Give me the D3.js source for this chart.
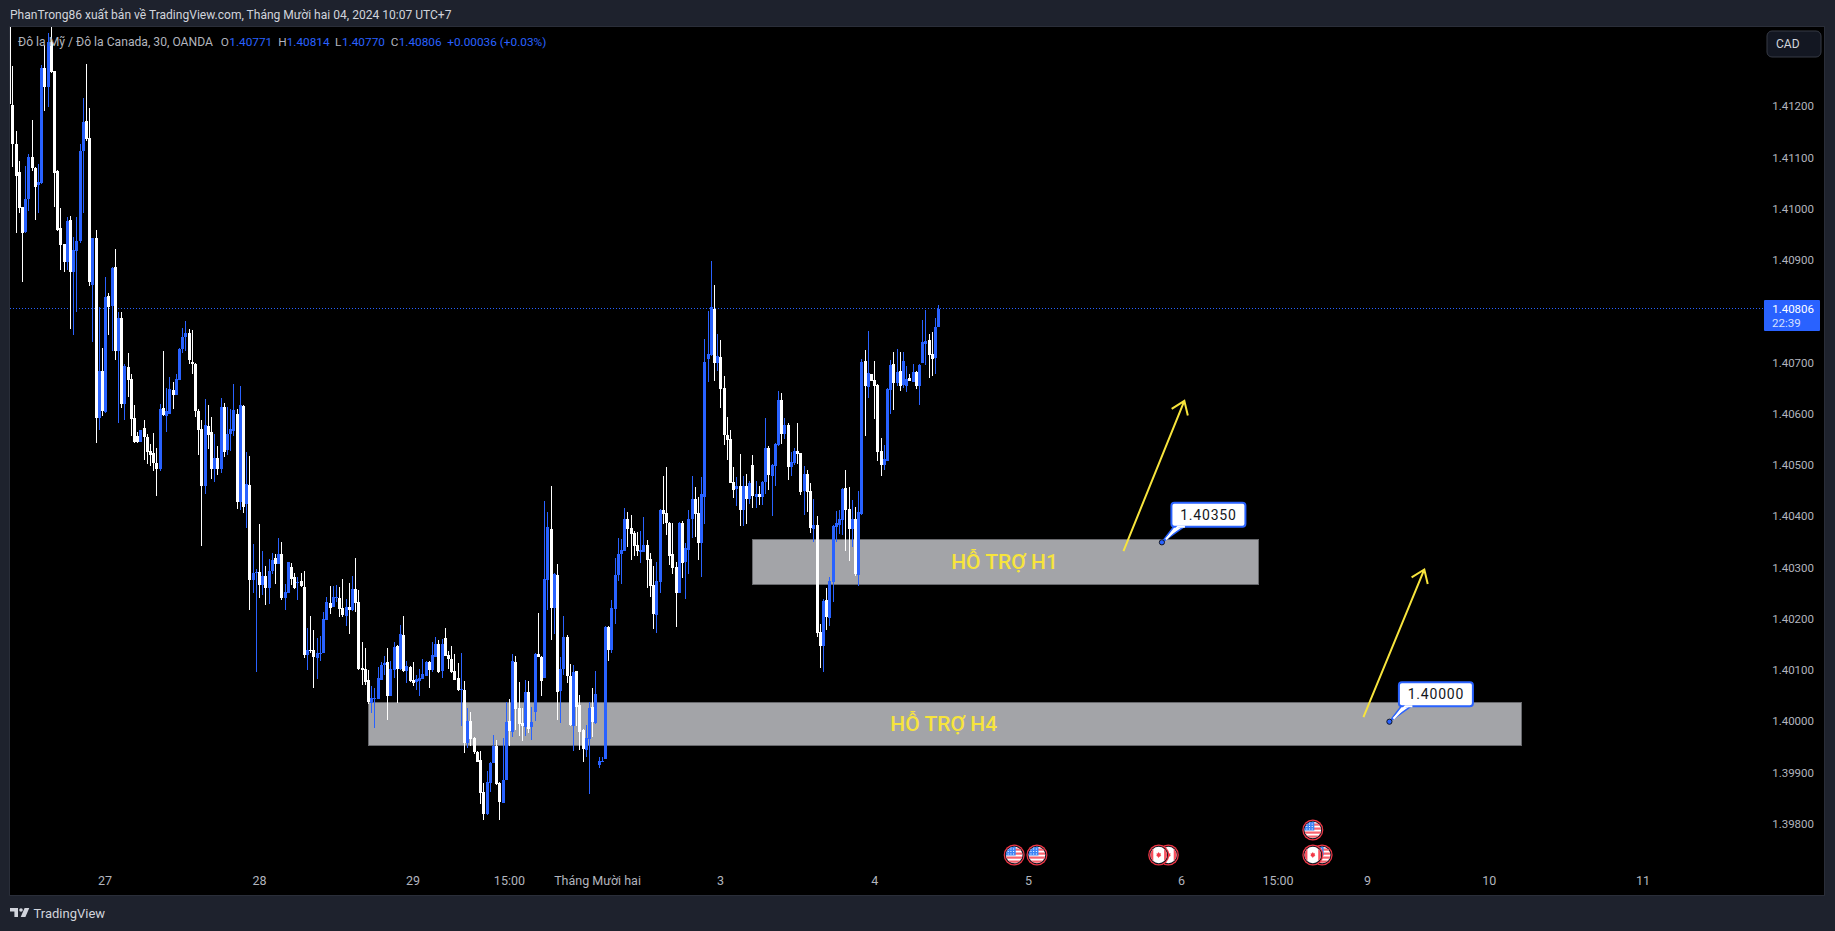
<!DOCTYPE html>
<html>
<head>
<meta charset="utf-8">
<script src="https://cdn.jsdelivr.net/npm/d3@7"></script>
<style>
  html, body { margin: 0; padding: 0; background: #1e222d; overflow: hidden; }
  svg { display: block; font-family: Roboto, sans-serif; }
</style>
</head>
<body>
<svg id="chart" width="1835" height="931"></svg>
<script>
// prices in 1e-5 units, one value per 30 minute bar
const opens = [141370,
  141203,141128,141073,141004,140956,141020,141102,141080,141047,141051,
  141275,141238,141327,141269,141075,140963,140932,140897,140979,140878,
  140919,140937,141114,141172,141139,140852,140944,140593,140685,140605,
  140831,140811,140888,140724,140788,140620,140692,140669,140593,140558,
  140546,140573,140555,140528,140525,140504,140493,140612,140597,140601,
  140647,140638,140667,140727,140750,140759,140702,140698,140607,140571,
  140460,140577,140566,140493,140515,140493,140614,140530,140562,140568,
  140601,140429,140616,140425,140462,140277,140291,140293,140267,140285,
  140261,140295,140320,140308,140328,140242,140252,140302,140282,140270,
  140274,140263,140131,140140,140140,140124,140133,140135,140199,140232,
  140224,140241,140242,140222,140207,140224,140217,140259,140234,140105,
  140102,140082,140037,140045,140045,140082,140111,140117,140051,140100,
  140148,140102,140170,140098,140107,140082,140078,140080,140084,140090,
  140117,140100,140127,140152,140098,140164,140131,140123,140098,140086,
  140061,140062,139959,140002,139969,139940,139926,139862,139819,139881,
  139920,139953,139881,139842,139887,140002,139979,140117,140027,139998,
  139990,140057,139990,140018,140133,140127,140086,140277,140376,140222,
  140287,140059,140103,140166,140090,139992,140098,140033,139983,139945,
  139967,140029,139998,139916,139922,139928,140185,140140,140220,140287,
  140328,140334,140396,140378,140369,140345,140332,140332,140345,140318,
  140267,140209,140273,140413,140408,140388,140328,140302,140252,140388,
  140312,140335,140396,140435,140408,140349,140438,140707,140715,140806,
  140700,140711,140651,140559,140551,140468,140454,140460,140413,140460,
  140434,140501,140438,140444,140438,140468,140534,140479,140499,140540,
  140627,140561,140579,140497,140505,140528,140524,140450,140483,140450,
  140376,140384,140176,140148,140238,140203,140273,140380,140384,140394,
  140456,140415,140376,140396,140287,140405,140704,140653,140678,140666,
  140657,140528,140501,140509,140647,140698,140661,140684,140657,140655,
  140670,140663,140682,140655,140700,140737,140744,140717,140709,140771];
const highs = [141390,
  141279,141153,141094,141005,141084,141108,141174,141082,141088,141281,
  141320,141343,141355,141270,141076,141002,140933,140985,140987,140946,
  140985,141127,141217,141283,141197,140944,140959,140810,140729,140868,
  140837,140888,140922,140800,140800,140698,140719,140679,140618,140565,
  140570,140589,140562,140542,140564,140534,140620,140724,140652,140673,
  140663,140679,140729,140769,140782,140766,140764,140699,140610,140589,
  140630,140618,140595,140562,140538,140632,140622,140614,140610,140659,
  140610,140655,140618,140527,140519,140347,140298,140386,140334,140304,
  140318,140330,140328,140359,140351,140269,140312,140309,140290,140282,
  140290,140295,140183,140207,140179,140164,140168,140215,140244,140265,
  140265,140267,140263,140279,140240,140271,140285,140320,140256,140156,
  140144,140100,140070,140066,140107,140117,140129,140144,140119,140156,
  140150,140189,140207,140119,140108,140117,140092,140103,140123,140118,
  140118,140156,140166,140160,140162,140183,140137,140148,140133,140115,
  140135,140080,140027,140018,139970,139942,139942,139881,139903,139922,
  139975,139965,139882,139969,140039,140045,140133,140129,140078,140027,
  140082,140080,140029,140134,140213,140128,140431,140410,140460,140291,
  140308,140127,140207,140170,140113,140111,140099,140053,139986,139994,
  140039,140066,140098,139932,139932,140187,140187,140238,140320,140359,
  140357,140417,140410,140404,140373,140371,140373,140400,140355,140330,
  140304,140312,140415,140480,140497,140389,140388,140312,140390,140392,
  140349,140413,140480,140458,140439,140478,140746,140801,140899,140852,
  140756,140744,140674,140594,140569,140497,140477,140522,140479,140483,
  140470,140520,140470,140460,140469,140592,140538,140503,140543,140645,
  140641,140592,140583,140526,140534,140583,140525,140499,140491,140466,
  140435,140402,140191,140240,140261,140283,140383,140412,140413,140456,
  140492,140458,140433,140419,140451,140707,140725,140762,140679,140704,
  140659,140553,140540,140651,140705,140721,140727,140721,140721,140694,
  140678,140698,140684,140697,140783,140803,140756,140760,140787,140814];
const lows = [141190,
  141083,140953,140992,140857,140954,140997,141075,140978,140992,141049,
  141192,141200,141266,141005,140957,140881,140878,140881,140766,140755,
  140800,140935,140992,141134,140850,140740,140543,140569,140597,140603,
  140755,140724,140706,140582,140613,140588,140634,140558,140543,140543,
  140545,140511,140503,140499,140490,140441,140489,140597,140566,140600,
  140610,140637,140666,140720,140724,140698,140679,140595,140521,140343,
  140445,140532,140474,140468,140482,140486,140517,140521,140529,140558,
  140415,140413,140408,140378,140218,140252,140096,140242,140248,140228,
  140230,140289,140269,140307,140237,140217,140251,140267,140259,140238,
  140263,140125,140100,140134,140066,140084,140119,140134,140198,140211,
  140223,140234,140205,140205,140187,140172,140216,140215,140100,140072,
  140072,140035,140016,139988,140044,140081,140092,140004,140050,140086,
  140037,140101,140097,140076,140078,140070,140061,140051,140083,140089,
  140066,140096,140126,140095,140086,140128,140102,140095,140081,140060,
  139992,139938,139949,139953,139936,139921,139840,139809,139818,139862,
  139919,139877,139809,139841,139886,139953,139971,139984,139973,139963,
  139973,139977,139965,140002,140126,140051,140085,140218,140160,140172,
  140004,139998,140092,140076,139992,139942,139992,139944,139922,139932,
  139858,139971,139996,139910,139921,139927,140119,140135,140191,140275,
  140269,140333,140341,140316,140324,140324,140310,140331,140261,140244,
  140181,140174,140252,140386,140365,140306,140289,140185,140251,140281,
  140240,140289,140359,140361,140316,140283,140386,140663,140714,140665,
  140684,140612,140540,140510,140465,140436,140421,140382,140382,140386,
  140425,140417,140417,140423,140423,140444,140452,140401,140460,140538,
  140542,140551,140471,140479,140501,140503,140442,140403,140409,140369,
  140351,140166,140105,140096,140178,140187,140234,140351,140367,140365,
  140334,140314,140341,140285,140265,140404,140557,140631,140664,140590,
  140509,140479,140491,140508,140600,140608,140655,140645,140651,140643,
  140664,140662,140649,140618,140699,140696,140670,140674,140678,140770];
const closes = [141205,
  141127,141065,141002,140954,141020,141102,141080,141043,141054,141275,
  141238,141327,141268,141071,140959,140930,140897,140977,140878,140920,
  140938,141114,141171,141137,140857,140943,140593,140685,140607,140829,
  140810,140885,140724,140788,140620,140694,140667,140591,140545,140545,
  140569,140555,140527,140521,140504,140493,140610,140599,140607,140649,
  140638,140669,140727,140751,140759,140706,140698,140607,140569,140460,
  140579,140560,140493,140515,140493,140614,140527,140562,140571,140608,
  140429,140618,140419,140464,140277,140290,140293,140267,140285,140261,
  140295,140316,140308,140328,140241,140253,140311,140278,140260,140272,
  140264,140131,140139,140137,140127,140134,140135,140201,140234,140222,
  140244,140244,140220,140209,140224,140217,140259,140232,140103,140100,
  140078,140039,140047,140047,140086,140111,140115,140051,140102,140146,
  140102,140172,140098,140109,140080,140076,140084,140086,140094,140117,
  140100,140131,140152,140096,140152,140129,140123,140096,140082,140061,
  140063,139959,140002,139967,139940,139922,139860,139819,139883,139920,
  139953,139879,139844,139887,140000,139981,140119,140025,139996,139992,
  140057,139986,140000,140133,140127,140080,140279,140380,140222,140289,
  140057,140103,140166,140090,139994,140096,140029,139979,139947,139969,
  140027,140000,140055,139924,139924,140185,140140,140222,140287,140328,
  140335,140396,140376,140367,140343,140334,140335,140345,140316,140265,
  140211,140275,140413,140406,140388,140324,140300,140252,140388,140310,
  140339,140396,140435,140406,140349,140445,140702,140717,140809,140700,
  140713,140649,140559,140549,140466,140452,140460,140413,140460,140434,
  140466,140440,140444,140438,140468,140534,140481,140501,140542,140627,
  140561,140579,140497,140507,140528,140522,140448,140483,140448,140378,
  140384,140174,140148,140236,140205,140275,140382,140388,140396,140454,
  140413,140376,140396,140289,140410,140702,140655,140680,140665,140655,
  140526,140501,140512,140649,140696,140661,140682,140655,140704,140668,
  140665,140682,140655,140696,140741,140743,140715,140707,140770,140806];

const priceTicks = [1.412,1.411,1.41,1.409,1.408,1.407,1.406,1.405,1.404,1.403,1.402,1.401,1.4,1.399,1.398];
const timeTickBars = [29.8,78,125.9,156,183.5,221.9,270,318,365.8,395.9,423.8,461.8,509.8];
const timeTickLabels = ['27','28','29','15:00','Tháng Mười hai','3','4','5','6','15:00','9','10','11'];

const zoneLabels = ['HỖ TRỢ H1','HỖ TRỢ H4'];
const zoneStartBars = [232,112.1];
const zoneEndBars = [390,471.9];
const zoneTops = [1.40356,1.40038];
const zoneBottoms = [1.40269,1.39955];

const arrowStartBars = [347.8,422.7];
const arrowStartPrices = [1.40333,1.40009];
const arrowEndBars = [366.8,441.7];
const arrowEndPrices = [1.40626,1.40297];

const noteBars = [359.8,430.8];
const notePrices = [1.4035,1.4];

const eventBars = [313.7,320.8,361.8,358.8,409.8,406.9,406.9];
const eventKinds = ['us','us','ca','ca','us','ca','us'];
const eventRows = [0,0,0,0,0,0,1];

const lastPrice = 1.40806;
const countdown = '22:39';

const BLUE = '#2962ff';
const PANEL = '#1e222d';
const LINE = '#2a2e39';
const YELLOW = '#f7e43c';
const PLOT = {left: 10, top: 27, right: 1824, bottom: 895};

const svg = d3.select('#chart');
const x = d3.scaleLinear().domain([0, 570]).range([9.1, 1835.4]);
const y = d3.scaleLinear().domain([1.398, 1.412]).range([824.2, 106.7]);

svg.append('rect').attr('width', 1835).attr('height', 931).attr('fill', PANEL);
svg.append('rect').attr('x', PLOT.left).attr('y', PLOT.top)
  .attr('width', PLOT.right - PLOT.left).attr('height', PLOT.bottom - PLOT.top).attr('fill', '#000');
svg.append('path').attr('fill', 'none').attr('stroke', LINE).attr('stroke-width', 1)
  .attr('d', `M9.5 26.5H1824.5V895.5H9.5Z`);

svg.append('clipPath').attr('id', 'plot-clip').append('rect')
  .attr('x', PLOT.left).attr('y', PLOT.top)
  .attr('width', PLOT.right - PLOT.left).attr('height', PLOT.bottom - PLOT.top);
const plot = svg.append('g').attr('clip-path', 'url(#plot-clip)');

// support zones sit behind the candles
zoneLabels.forEach((label, i) => {
  plot.append('rect')
    .attr('x', Math.round(x(zoneStartBars[i])) + 0.5).attr('y', Math.round(y(zoneTops[i])) + 0.5)
    .attr('width', Math.round(x(zoneEndBars[i]) - x(zoneStartBars[i])))
    .attr('height', Math.round(y(zoneBottoms[i]) - y(zoneTops[i])))
    .attr('fill', '#a3a4a8').attr('stroke', '#68696d').attr('stroke-width', 1);
});

plot.append('line').attr('x1', PLOT.left).attr('x2', 1764)
  .attr('y1', Math.floor(y(lastPrice)) + 0.5).attr('y2', Math.floor(y(lastPrice)) + 0.5)
  .attr('stroke', BLUE).attr('stroke-width', 1).attr('stroke-dasharray', '1 2')
  .attr('shape-rendering', 'crispEdges');

const candles = plot.append('g').attr('shape-rendering', 'crispEdges');
opens.forEach((open, i) => {
  const color = closes[i] >= open ? BLUE : '#ffffff';
  const cx = Math.round(x(i));
  const wickTop = Math.round(y(highs[i] / 1e5));
  const wickBottom = Math.round(y(lows[i] / 1e5));
  const bodyTop = Math.round(y(Math.max(open, closes[i]) / 1e5));
  const bodyBottom = Math.round(y(Math.min(open, closes[i]) / 1e5));
  candles.append('rect').attr('x', cx).attr('y', wickTop)
    .attr('width', 1).attr('height', Math.max(1, wickBottom - wickTop)).attr('fill', color);
  candles.append('rect').attr('x', cx - 1).attr('y', bodyTop)
    .attr('width', 3).attr('height', Math.max(1, bodyBottom - bodyTop)).attr('fill', color);
});

zoneLabels.forEach((label, i) => {
  plot.append('text')
    .attr('x', (x(zoneStartBars[i]) + x(zoneEndBars[i])) / 2 - 1)
    .attr('y', (y(zoneTops[i]) + y(zoneBottoms[i])) / 2 + 7.5)
    .attr('text-anchor', 'middle').attr('font-size', 21).attr('font-weight', 500)
    .attr('fill', YELLOW).text(label);
});

arrowStartBars.forEach((bar, i) => {
  const x1 = x(bar), y1 = y(arrowStartPrices[i]);
  const x2 = x(arrowEndBars[i]), y2 = y(arrowEndPrices[i]);
  const a = Math.atan2(y2 - y1, x2 - x1);
  const head = 15, spread = 0.62;
  const p = d3.path();
  p.moveTo(x1, y1);
  p.lineTo(x2, y2);
  p.moveTo(x2 - head * Math.cos(a - spread), y2 - head * Math.sin(a - spread));
  p.lineTo(x2, y2);
  p.lineTo(x2 - head * Math.cos(a + spread), y2 - head * Math.sin(a + spread));
  plot.append('path').attr('d', p.toString()).attr('fill', 'none')
    .attr('stroke', YELLOW).attr('stroke-width', 2);
});

// price notes: the box hangs off the anchor dot
noteBars.forEach((bar, i) => {
  const cx = x(bar), cy = y(notePrices[i]);
  const g = plot.append('g').attr('transform', `translate(${cx},${cy})`);
  g.append('path').attr('d', 'M0 0L13 -17H24L0 0Z').attr('fill', '#fff')
    .attr('stroke', BLUE).attr('stroke-width', 1.5).attr('stroke-linejoin', 'round');
  g.append('rect').attr('x', 9.5).attr('y', -39.5).attr('width', 74).attr('height', 24).attr('rx', 3)
    .attr('fill', '#fff').attr('stroke', BLUE).attr('stroke-width', 2);
  g.append('path').attr('d', 'M4 -3L16 -15.5H23').attr('fill', 'none')
    .attr('stroke', '#fff').attr('stroke-width', 2);
  g.append('circle').attr('r', 2.6).attr('fill', BLUE).attr('stroke', '#131722').attr('stroke-width', 1);
  g.append('text').attr('x', 46.5).attr('y', -22.5).attr('text-anchor', 'middle')
    .attr('font-size', 14).attr('letter-spacing', 0.8).attr('fill', '#131722')
    .text(d3.format('.5f')(notePrices[i]));
});

// economic calendar markers
const defs = svg.append('defs');
eventBars.forEach((bar, i) => {
  const cx = x(bar), cy = eventRows[i] === 1 ? 830 : 855;
  const id = `flag-${i}`;
  defs.append('clipPath').attr('id', id).append('circle').attr('r', 8.3);
  const g = plot.append('g').attr('transform', `translate(${cx},${cy})`);
  g.append('circle').attr('r', 10.5).attr('fill', '#f23645');
  g.append('circle').attr('r', 9.3).attr('fill', '#131722');
  const flag = g.append('g').attr('clip-path', `url(#${id})`);
  flag.append('rect').attr('x', -9).attr('y', -9).attr('width', 18).attr('height', 18).attr('fill', '#fff');
  if (eventKinds[i] === 'us') {
    [-6.5, -2.5, 1.5, 5.5].forEach(sy => {
      flag.append('rect').attr('x', -9).attr('y', sy).attr('width', 18).attr('height', 2.2).attr('fill', '#f7626d');
    });
    flag.append('rect').attr('x', -9).attr('y', -9).attr('width', 10.5).attr('height', 9.5).attr('fill', '#3d84f5');
    d3.range(3).forEach(r => d3.range(3).forEach(c => {
      flag.append('rect').attr('x', -6.5 + c * 2.7).attr('y', -6.5 + r * 2.5)
        .attr('width', 1).attr('height', 1).attr('fill', '#fff');
    }));
  } else {
    flag.append('rect').attr('x', -9).attr('y', -9).attr('width', 3.6).attr('height', 18).attr('fill', '#f7525f');
    flag.append('rect').attr('x', 5.4).attr('y', -9).attr('width', 3.6).attr('height', 18).attr('fill', '#f7525f');
    flag.append('path').attr('d', 'M0 -3L0.9 -1.4L2.2 -1.8L1.8 0.3L2.6 0.7L0.3 2V3H-0.3V2L-2.6 0.7L-1.8 0.3L-2.2 -1.8L-0.9 -1.4Z').attr('fill', '#f23645');
  }
});

// axes
const yAxis = svg.append('g').attr('transform', 'translate(1814,-0.5)')
  .call(d3.axisRight(y).tickValues(priceTicks).tickFormat(d3.format('.5f')).tickSize(0));
yAxis.select('.domain').remove();
yAxis.selectAll('text').attr('x', 0).attr('text-anchor', 'end')
  .attr('font-family', 'Roboto, sans-serif').attr('font-size', 11.5).attr('fill', '#b2b5be');

const labelByBar = new Map(timeTickBars.map((b, i) => [b, timeTickLabels[i]]));
const xAxis = svg.append('g').attr('transform', 'translate(0,873.5)')
  .call(d3.axisBottom(x).tickValues(timeTickBars).tickFormat(b => labelByBar.get(b)).tickSize(0));
xAxis.select('.domain').remove();
xAxis.selectAll('text').attr('font-family', 'Roboto, sans-serif').attr('font-size', 12.5).attr('fill', '#b2b5be');

// last price tag
svg.append('rect').attr('x', 1764).attr('y', 300).attr('width', 56).attr('height', 31).attr('rx', 1).attr('fill', BLUE);
svg.append('text').attr('x', 1814).attr('y', 313).attr('text-anchor', 'end')
  .attr('font-size', 11.5).attr('fill', '#fff').text(d3.format('.5f')(lastPrice));
svg.append('text').attr('x', 1772).attr('y', 327)
  .attr('font-size', 11.5).attr('fill', '#d6e0ff').text(countdown);

// currency button
svg.append('rect').attr('x', 1767).attr('y', 31).attr('width', 54).attr('height', 26).attr('rx', 5)
  .attr('fill', '#131722').attr('stroke', '#363a45');
svg.append('text').attr('x', 1776).attr('y', 48).attr('font-size', 12).attr('fill', '#d1d4dc').text('CAD');

// header and legend
svg.append('text').attr('x', 10).attr('y', 19).attr('font-size', 12.05).attr('fill', '#d1d4dc')
  .text('PhanTrong86 xuất bản về TradingView.com, Tháng Mười hai 04, 2024 10:07 UTC+7');

const legendX = [18,220.7,229.3,278.3,286.7,335,342,390.7,398.7,447.3];
const legendText = ['Đô la Mỹ / Đô la Canada, 30, OANDA','O','1.40771','H','1.40814','L','1.40770','C','1.40806','+0.00036 (+0.03%)'];
legendText.forEach((t, i) => {
  const isValue = i > 0 && i % 2 === 0 || i === legendText.length - 1;
  svg.append('text').attr('x', legendX[i]).attr('y', 46).attr('font-size', i === 0 ? 12.15 : 11.8)
    .attr('fill', isValue ? BLUE : '#b2b5be').text(t);
});

// footer logo
svg.append('path').attr('fill', '#d1d4dc')
  .attr('d', 'M10 908H18V917H14.4V911.6H10ZM24.6 908H29.3L25.4 917H20.7Z');
svg.append('circle').attr('cx', 21).attr('cy', 910).attr('r', 1.8).attr('fill', '#d1d4dc');
svg.append('text').attr('x', 33.5).attr('y', 918).attr('font-size', 13).attr('fill', '#d1d4dc').text('TradingView');
</script>
</body>
</html>
